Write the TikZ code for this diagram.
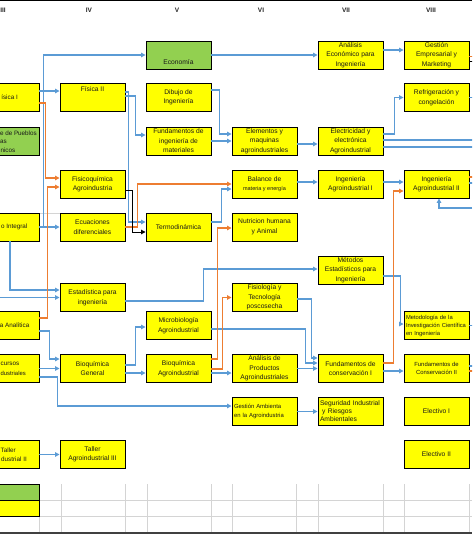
\documentclass[tikz,border=0pt]{standalone}
\usepackage{fontspec}
\setmainfont{Liberation Sans}
\usetikzlibrary{arrows.meta,positioning}
\definecolor{cyellow}{RGB}{255,255,0}
\definecolor{cgreen}{RGB}{146,208,80}
\definecolor{cblue}{RGB}{91,155,213}
\definecolor{corange}{RGB}{237,125,49}
\definecolor{cgrid}{RGB}{212,212,212}
\newcommand{\crsfont}{\fontsize{6.7}{9.5}\selectfont}
\newcommand{\narfont}{\fontsize{5.9}{8.6}\selectfont}
\tikzset{
  cbox/.style={draw=black, line width=0.9pt, fill=cyellow, minimum width=65pt, minimum height=28pt, inner sep=0pt, align=center, font=\crsfont, text=black!90},
  gbox/.style={cbox, fill=cgreen},
  ctxt/.style={font=\crsfont, text=black!90, inner sep=0pt},
  ctcut/.style={ctxt, font=\fontsize{6.3}{8}\selectfont, anchor=east},
  chead/.style={font=\fontsize{6.5}{7}\selectfont\bfseries, text=black!85},
  barr/.style={draw=cblue, line width=1.3pt, -{Triangle[length=4.5pt,width=4.5pt]}},
  oarr/.style={barr, draw=corange},
  karr/.style={barr, draw=black, line width=0.9pt},
  bstub/.style={draw=cblue, line width=1.3pt},
  ostub/.style={bstub, draw=corange},
  kstub/.style={bstub, draw=black, line width=0.9pt}
}
\begin{document}
\begin{tikzpicture}[x=1pt, y=-1pt]
  \useasboundingbox (0,0) rectangle (472,536);
  \clip (0,0) rectangle (472,536);
  % sheet frame, semester headers and grid
  \draw[black, line width=1pt] (0,0.5) -- (472,0.5);
  \foreach \lab/\x in {III/3, IV/89, V/177, VI/261, VII/346, VIII/431}
    \node[chead] (h\lab) at (\x,10) {\lab};
  \foreach \x in {39,61,125,147,211,232,296,318,383,404,469}
    \draw[cgrid, line width=0.6pt] (\x,484) -- (\x,532);
  \foreach \y in {500,516}
    \draw[cgrid, line width=0.6pt] (0,\y) -- (472,\y);
  \draw[cgrid, line width=0.6pt] (39,213) -- (60,213);
  \draw[black!75, line width=1.5pt] (0,533) -- (472,533);
  % semester III (cut at the sheet edge)
  \node[cbox] (fis1) at (6.5,97) {};
  \node[gbox] (pueb) at (6.5,141) {};
  \node[cbox] (calc) at (6.5,227) {};
  \node[cbox] (quim) at (6.5,325.5) {};
  \node[cbox] (recu) at (6.5,368.5) {};
  \node[cbox] (tal2) at (6.5,454.5) {};
  \node[ctcut] (fis1t) at (18,97.5) {ísica I};
  \node[ctcut] (pueba) at (37,133) {e de Pueblos};
  \node[ctcut] (puebb) at (7,142) {as};
  \node[ctcut] (puebc) at (15.5,150.5) {nicos};
  \node[ctcut] (calct) at (27.5,227) {o Integral};
  \node[ctcut] (quimt) at (29.5,325) {a Analítica};
  \node[ctcut] (recua) at (19.5,364) {cursos};
  \node[ctcut, font=\fontsize{5.9}{8}\selectfont] (recub) at (26,373) {dustriales};
  \node[ctcut] (tal2a) at (16,450) {Taller};
  \node[ctcut] (tal2b) at (27,459) {dustrial II};
  % semester IV
  \node[cbox] (fis2) at (92.5,97.5) {};
  \node[ctxt, below=3.5pt of fis2.north] (fis2t) {Física II};
  \node[cbox] (fisq) at (92.5,184) {Fisicoquímica\\Agroindustria};
  \node[cbox] (ecua) at (92.5,227) {Ecuaciones\\diferenciales};
  \node[cbox] (esta) at (92.5,297.5) {Estadística para\\ingeniería};
  \node[cbox] (bqgn) at (92.5,368.5) {Bioquímica\\General};
  \node[cbox] (tal3) at (92.5,454.5) {Taller\\Agroindustrial III};
  % semester V
  \node[gbox] (econ) at (178.5,55) {};
  \node[ctxt, above=4.5pt of econ.south] (econt) {Economía};
  \node[cbox] (dibu) at (178.5,97.5) {Dibujo de\\Ingeniería};
  \node[cbox] (fmat) at (178.5,141) {Fundamentos de\\ingeniería de\\materiales};
  \node[cbox] (term) at (178.5,227) {Termodinámica};
  \node[cbox] (micr) at (178.5,325.5) {Microbiología\\Agroindustrial};
  \node[cbox] (bqag) at (178.5,368.5) {Bioquímica\\Agroindustrial};
  % semester VI
  \node[cbox] (elem) at (264.5,141) {Elementos y\\maquinas\\agroindustriales};
  \node[cbox] (bala) at (264.5,184) {Balance de\\{\fontsize{5.5}{7}\selectfont materia y energía}};
  \node[cbox] (nutr) at (264.5,227) {Nutricion humana\\y Animal};
  \node[cbox] (fisi) at (264.5,297.5) {Fisiología y\\Tecnología\\poscosecha};
  \node[cbox] (anpr) at (264.5,368.5) {Análisis de\\Productos\\Agroindustriales};
  \node[cbox, font=\narfont, align=left, text width=61pt] (gamb) at (264.5,411.5) {Gestión Ambienta\\en la Agroindustria};
  % semester VII
  \node[cbox] (anec) at (350.5,55) {Análisis\\Económico para\\Ingeniería};
  \node[cbox] (elec) at (350.5,141) {Electricidad y\\electrónica\\Agroindustrial};
  \node[cbox] (ing1) at (350.5,184) {Ingeniería\\Agroindustrial I};
  \node[cbox] (mest) at (350.5,270) {Métodos\\Estadísticos para\\Ingeniería};
  \node[cbox] (fco1) at (350.5,368.5) {Fundamentos de\\conservación I};
  \node[cbox, align=left, text width=61pt, font=\fontsize{6.7}{8}\selectfont] (segu) at (350.5,411.5) {Seguridad Industrial\\\ y Riesgos\\Ambientales};
  % semester VIII
  \node[cbox] (gest) at (436.5,55) {Gestión\\Empresarial y\\Marketing};
  \node[cbox] (refr) at (436.5,97.5) {Refrigeración y\\congelación};
  \node[cbox] (ing2) at (436.5,184) {Ingeniería\\Agroindustrial II};
  \node[cbox, align=left, text width=61pt, font=\fontsize{5.8}{8}\selectfont] (meto) at (436.5,325.5) {Metodología de la\\Investigación Científica\\en Ingeniería};
  \node[cbox, font=\narfont] (fco2) at (436.5,368.5) {Fundamentos de\\Conservación II};
  \node[cbox] (ele1) at (436.5,411.5) {Electivo I};
  \node[cbox] (ele2) at (436.5,454.5) {Electivo II};
  % legend
  \node[gbox, minimum height=16pt] (leg1) at (6.5,492) {};
  \node[cbox, minimum height=16pt] (leg2) at (6.5,508) {};
  % free ends at the sheet edges
  \coordinate (ing2in) at (472,208);
  \coordinate (estain) at (0,297.5);
  % blue prerequisites
  \draw[barr] (calc.east) -- ++(4,0) |- (econ.west);
  \draw[barr] (calc.east) -- (ecua.west);
  \draw[barr] ([yshift=6]fis1.east) -- ([yshift=6.5]fis2.west);
  \draw[barr] ([yshift=5.5]fis2.east) -- ++(3,0) |- ([yshift=5]term.west);
  \draw[barr] ([yshift=1.5]fis2.east) -- ++(10,0) |- ([yshift=6]fmat.west);
  \draw[barr] ([yshift=7.5]dibu.east) -- ++(8,0) |- ([yshift=7]elem.west);
  \draw[barr] (fmat.east) -- (elem.west);
  \draw[barr] (econ.east) -- (anec.west);
  \draw[barr] ([yshift=5]anec.east) -- ([yshift=5]gest.west);
  \draw[barr] ([yshift=7]elec.east) -- ++(11,0) |- (refr.west);
  \draw[barr] ([yshift=-3]elem.east) -- ([yshift=-3]elec.west);
  \draw[barr] ([yshift=2]bala.east) -- ([yshift=2]ing1.west);
  \draw[barr] ([yshift=5]term.east) -- ++(10,0) |- ([yshift=-5]bala.west);
  \draw[barr] ([yshift=2]ing1.east) -- ([yshift=2]ing2.west);
  \draw[barr] (ing2in) -| ([xshift=2.5]ing2.south);
  \draw[barr] ([xshift=3.5]calc.south) |- ([yshift=7.5]esta.west);
  \draw[barr] (estain) -- (esta.west);
  \draw[barr] ([yshift=-3.5]esta.east) -- ++(78,0) |- ([yshift=1]mest.west);
  \draw[barr] ([yshift=-5.5]quim.east) -- ++(10,0) |- ([yshift=9.5]bqgn.west);
  \draw[barr] (recu.east) -- (bqgn.west);
  \draw[barr] ([yshift=-8.5]recu.east) -- ++(18,0) |- ([yshift=5.5]gamb.west);
  \draw[barr] ([yshift=3.5]bqgn.east) -- ++(10,0) |- ([yshift=-1.5]micr.west);
  \draw[barr] ([yshift=-4.5]bqgn.east) -- ([yshift=-4.5]bqag.west);
  \draw[barr] ([yshift=-4.5]bqag.east) -- ([yshift=-4.5]anpr.west);
  \draw[barr] ([yshift=-3.5]micr.east) -- ++(94,0) |- ([yshift=5.5]fco1.west);
  \draw[barr] ([yshift=-1.5]fisi.east) -- ++(14,0) |- ([yshift=10.5]fco1.west);
  \draw[barr] (anpr.east) -- (fco1.west);
  \draw[barr] ([yshift=-2.5]fco1.east) -- ([yshift=-2.5]fco2.west);
  \draw[barr] (gamb.east) -- (segu.west);
  \draw[barr] ([yshift=-6]mest.east) -- ++(17,0) |- ([yshift=1.5]meto.west);
  \draw[barr] (tal2.east) -- (tal3.west);
  % orange and black prerequisites
  \draw[oarr] ([yshift=-6]fis1.east) -- ++(6,0) |- ([yshift=6]fisq.west);
  \draw[oarr] ([yshift=7.5]quim.east) -- ++(8,0) |- ([yshift=-3]fisq.west);
  \draw[oarr] (ecua.east) -- ++(12,0) |- (bala.west);
  \draw[oarr] ([yshift=9.5]bqag.east) -- ++(6,0) |- ([yshift=-1]nutr.west);
  \draw[oarr] ([yshift=-0.5]bqag.east) -- ++(11,0) |- (fisi.west);
  \draw[oarr] ([yshift=5.5]fco1.east) -- ++(10,0) |- ([yshift=-7]ing2.west);
  \draw[karr] ([yshift=-6]fisq.east) -- ++(7,0) |- ([yshift=-5]term.west);
  % lines leaving the sheet to the right
  \draw[bstub] ([yshift=1]elec.east) -- ++(95,0);
  \draw[bstub] ([yshift=-6]elec.east) -- ++(95,0);
  \draw[bstub] (refr.east) -- ++(10,0);
  \draw[ostub] ([yshift=-1.5]gest.east) -- ++(10,0);
  \draw[kstub] ([yshift=-6]gest.east) -- ++(10,0);
  \draw[ostub] ([yshift=7]ing2.east) -- ++(10,0);
  \draw[bstub] ([yshift=1]ing2.east) -- ++(10,0);
  \draw[bstub] (meto.east) -- ++(10,0);
  \draw[bstub] ([yshift=2.5]fco2.east) -- ++(10,0);
  \draw[ostub] ([yshift=-2.5]fco2.east) -- ++(10,0);
\end{tikzpicture}
\end{document}
